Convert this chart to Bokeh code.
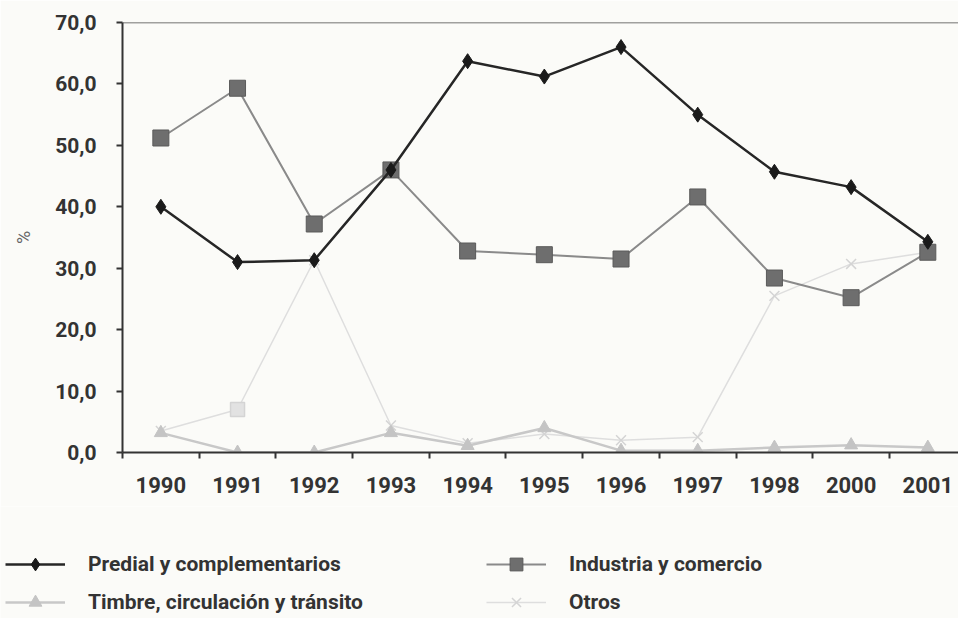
from bokeh.plotting import figure
from bokeh.layouts import column
from bokeh.models import FixedTicker, Legend, LegendItem, ColumnDataSource, Span
from bokeh.embed import file_html
from bokeh.resources import INLINE

years = ["1990", "1991", "1992", "1993", "1994", "1995", "1996", "1997", "1998", "2000", "2001"]
predial = [40.0, 31.0, 31.3, 46.0, 63.7, 61.2, 66.0, 55.0, 45.7, 43.2, 34.3]
industria = [51.2, 59.3, 37.2, 46.0, 32.8, 32.2, 31.5, 41.6, 28.4, 25.2, 32.6]
timbre = [3.2, 0.0, 0.0, 3.2, 1.1, 4.0, 0.3, 0.3, 0.8, 1.2, 0.8]
otros = [3.5, 7.0, 31.3, 4.4, 1.5, 3.0, 2.0, 2.5, 25.5, 30.7, 32.6]
otros_markers = ["x", "square", "x", "x", "x", "x", "x", "x", "x", "x", "x"]
y_ticks = [0, 10, 20, 30, 40, 50, 60, 70]
y_tick_labels = ["0,0", "10,0", "20,0", "30,0", "40,0", "50,0", "60,0", "70,0"]
series_keys = ["predial", "industria", "timbre", "otros"]
series_names = ["Predial y complementarios", "Industria y comercio",
                "Timbre, circulación y tránsito", "Otros"]

FONT = "Roboto, sans-serif"
BG = "#fbfbf8"

# styles per series: (line colour, line width, marker, size, fill, marker line)
STY = {
    "predial": ("#262626", 2.5, "diamond", 15, "#1a1a1a", "#1a1a1a"),
    "industria": ("#8a8a8a", 2, "square", 16, "#6e6e6e", "#5a5a5a"),
    "timbre": ("#c8c8c8", 2.5, "triangle", 13, "#c4c4c4", "#c4c4c4"),
    "otros": ("#dedede", 1.5, "x", 14, "#e2e2e2", "#d4d4d4"),
}

xs = list(range(len(years)))

p = figure(width=958, height=506, output_backend="svg", toolbar_location=None,
           x_range=(-0.5, 10.4), y_range=(0, 70),
           min_border_left=122, min_border_top=22, min_border_right=0, min_border_bottom=54)
p.background_fill_color = BG
p.border_fill_color = BG
p.outline_line_color = None
p.grid.visible = False

p.add_layout(Span(location=70, dimension="width", line_color="#444444", line_width=1.5))

# x axis
p.xaxis.ticker = FixedTicker(ticks=xs, minor_ticks=[i + 0.5 for i in range(-1, 11)])
p.xaxis.major_label_overrides = {i: y for i, y in enumerate(years)}
p.xaxis.major_tick_line_color = None
p.xaxis.major_tick_out = 6
p.xaxis.minor_tick_in = 0
p.xaxis.minor_tick_out = 6
p.xaxis.minor_tick_line_color = "#333333"
p.xaxis.minor_tick_line_width = 2
p.xaxis.axis_line_color = "#333333"
p.xaxis.axis_line_width = 2
p.xaxis.major_label_text_font = FONT
p.xaxis.major_label_text_font_style = "bold"
p.xaxis.major_label_text_font_size = "22px"
p.xaxis.major_label_text_color = "#333333"
p.xaxis.major_label_standoff = 18

# y axis
p.yaxis.ticker = FixedTicker(ticks=y_ticks, minor_ticks=[])
p.yaxis.major_label_overrides = {t: l for t, l in zip(y_ticks, y_tick_labels)}
p.yaxis.major_tick_in = 0
p.yaxis.major_tick_out = 6
p.yaxis.major_tick_line_color = "#333333"
p.yaxis.major_tick_line_width = 2
p.yaxis.axis_line_color = "#333333"
p.yaxis.axis_line_width = 2
p.yaxis.major_label_text_font = FONT
p.yaxis.major_label_text_font_style = "bold"
p.yaxis.major_label_text_font_size = "21px"
p.yaxis.major_label_text_color = "#333333"
p.yaxis.major_label_standoff = 20
p.yaxis.axis_label = "%"
p.yaxis.axis_label_text_font = FONT
p.yaxis.axis_label_text_font_style = "normal"
p.yaxis.axis_label_text_font_size = "18px"
p.yaxis.axis_label_text_color = "#666666"
p.yaxis.axis_label_standoff = 18


def draw(fig, key, x, y, markers=None):
    lc, lw, mk, sz, fc, mlc = STY[key]
    ln = fig.line(x, y, line_color=lc, line_width=lw)
    if markers is not None:
        src = ColumnDataSource(dict(x=x, y=y, m=markers))
        sc = fig.scatter("x", "y", source=src, marker="m", size=sz, fill_color=fc,
                         line_color=mlc, line_width=1.5)
    else:
        sc = fig.scatter(x, y, marker=mk, size=sz, fill_color=fc, line_color=mlc,
                         line_width=1.5 if mk == "x" else 1)
    return ln, sc


draw(p, "otros", xs, otros, otros_markers)
draw(p, "timbre", xs, timbre)
draw(p, "industria", xs, industria)
draw(p, "predial", xs, predial)

# legend panel underneath (its renderers hold off-screen points, only the legend shows)
leg = figure(width=958, height=112, output_backend="svg", toolbar_location=None,
             x_range=(0, 1), y_range=(0, 1), x_axis_location=None, y_axis_location=None,
             min_border_left=0, min_border_right=0, min_border_top=0, min_border_bottom=0)
leg.frame_align = False
leg.grid.visible = False
leg.outline_line_color = None
leg.background_fill_color = BG
leg.border_fill_color = BG

items = {}
for name, key in zip(series_names, series_keys):
    ln, sc = draw(leg, key, [5, 6], [5, 6])
    items[key] = LegendItem(label=name, renderers=[ln, sc])

# column-major filling: column 1 = predial, timbre; column 2 = industria, otros
ordered = [items["predial"], items["timbre"], items["industria"], items["otros"]]

legend = Legend(items=ordered, ncols=2, location=(5, 0), glyph_width=60, glyph_height=32,
                label_width=392, label_height=22, label_standoff=23, spacing=6,
                padding=0, margin=0, border_line_color=None, background_fill_alpha=0,
                label_text_font=FONT, label_text_font_style="bold",
                label_text_font_size="21px", label_text_color="#333333")
leg.add_layout(legend, "center")

layout = column(p, leg, spacing=0)
open("out.html", "w").write(file_html(layout, INLINE))
